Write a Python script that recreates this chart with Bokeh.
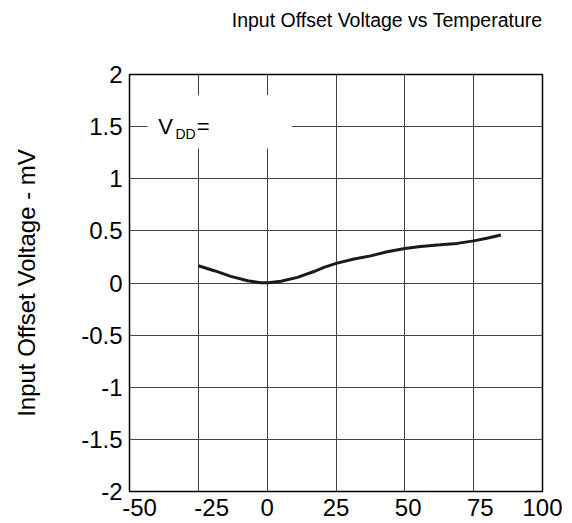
from bokeh.plotting import figure
from bokeh.models import Range1d, FixedTicker, Title
from bokeh.core.properties import value
from bokeh.embed import file_html
from bokeh.resources import INLINE

# Data
temp_c = [-25, -19.2, -13.2, -7.1, -2.3, 0.4, 5, 11, 17, 20.6, 25.1, 31.5,
          37.6, 43.6, 50, 55.7, 62.9, 69, 75, 79.8, 84.9]
offset_mv = [0.166, 0.118, 0.064, 0.022, 0.003, 0.003, 0.016, 0.054, 0.11,
             0.15, 0.188, 0.23, 0.26, 0.30, 0.33, 0.35, 0.366, 0.38, 0.404,
             0.43, 0.46]
x_ticks = [-50, -25, 0, 25, 50, 75, 100]
x_tick_labels = ["-50", "-25", "0", "25", "50", "75", "100"]
y_ticks = [-2, -1.5, -1, -0.5, 0, 0.5, 1, 1.5, 2]
y_tick_labels = ["-2", "-1.5", "-1", "-0.5", "0", "0.5", "1", "1.5", "2"]
title_text = "Input Offset Voltage vs Temperature"
y_label = "Input Offset Voltage - mV"

FONT = "Liberation Sans"
NB = "\u00a0"
# small rightward nudges of some x labels, as in the reference
x_label_pad = [3, 4, 0, 0, 1, 2, 0]

p = figure(width=572, height=523, output_backend="svg", toolbar_location=None,
           x_range=Range1d(-50, 100), y_range=Range1d(-2, 2),
           min_border_left=129, min_border_right=30, min_border_top=74,
           min_border_bottom=32, background_fill_color="white",
           border_fill_color="white")

p.title.visible = False
# spacer between frame and title (closest to frame), then the title itself
spacer = Title(text=" ", text_font=FONT, text_font_size="10px", standoff=31,
               text_color="white")
p.add_layout(spacer, "above")
t = Title(text=title_text, align="right", text_font=FONT,
          text_font_size="19.5px", text_font_style="normal",
          text_color="black", standoff=0)
p.add_layout(t, "above")

for ax in (p.xaxis, p.yaxis):
    ax.axis_line_color = None
    ax.major_tick_line_color = None
    ax.minor_tick_line_color = None
    ax.major_tick_out = 0
    ax.major_tick_in = 0
    ax.major_label_text_font = FONT
    ax.major_label_text_font_size = "24px"
    ax.major_label_text_color = "black"

p.xaxis.ticker = FixedTicker(ticks=x_ticks)
p.xaxis.major_label_overrides = {v: NB * n + s for v, s, n in
                                 zip(x_ticks, x_tick_labels, x_label_pad)}
p.xaxis.major_label_standoff = 2
p.yaxis.ticker = FixedTicker(ticks=y_ticks)
p.yaxis.major_label_overrides = {v: s for v, s in zip(y_ticks, y_tick_labels)}
p.yaxis.major_label_standoff = 7
p.yaxis.axis_label = y_label
p.yaxis.axis_label_text_font = FONT
p.yaxis.axis_label_text_font_size = "24px"
p.yaxis.axis_label_text_font_style = "normal"
p.yaxis.axis_label_text_color = "black"
p.yaxis.axis_label_standoff = 38

p.xgrid.ticker = FixedTicker(ticks=x_ticks)
p.ygrid.ticker = FixedTicker(ticks=y_ticks)
p.grid.grid_line_color = "#444444"
p.grid.grid_line_width = 1

p.outline_line_color = "black"
p.outline_line_width = 1.5

# white label box hiding grid
p.quad(left=[-43.5], right=[9], bottom=[1.29], top=[1.80],
       fill_color="white", line_color=None)
p.text(x=[-39.6], y=[1.5], text=["V"], text_font=value(FONT),
       text_font_size="22px", text_baseline="alphabetic", text_color="black")
p.text(x=[-33.3], y=[1.433], text=["DD"], text_font=value(FONT),
       text_font_size="14px", text_baseline="alphabetic", text_color="black")
p.text(x=[-25.6], y=[1.5], text=["="], text_font=value(FONT),
       text_font_size="22px", text_baseline="alphabetic", text_color="black")

p.line(temp_c, offset_mv, line_color="#1a1a1a", line_width=3)

open("out.html", "w").write(file_html(p, INLINE))
